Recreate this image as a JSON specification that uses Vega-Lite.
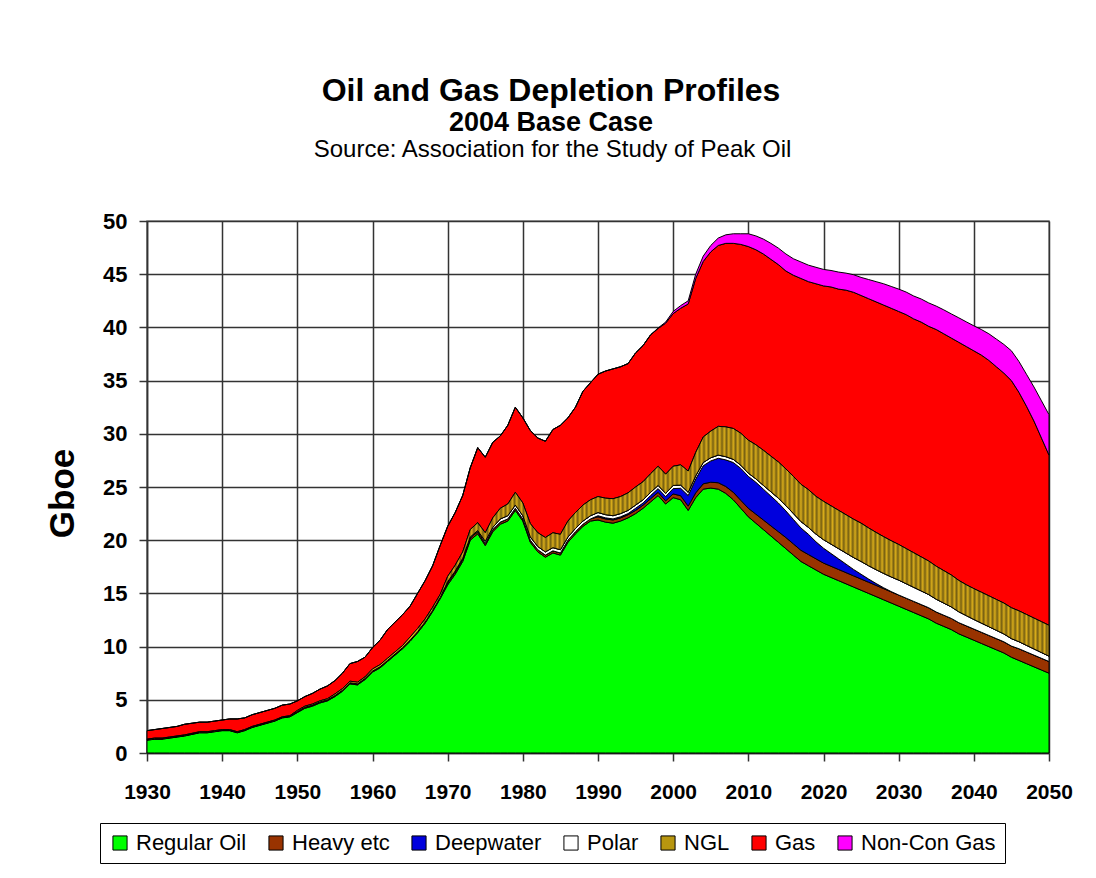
{
  "$schema": "https://vega.github.io/schema/vega-lite/v6.json",
  "autosize": {"type": "none"},
  "width": 902,
  "height": 532,
  "padding": {"left": 147, "top": 221, "right": 47, "bottom": 125},
  "background": "#ffffff",
  "config": {
    "font": "Liberation Sans",
    "view": {"stroke": "#888888", "strokeWidth": 1.5}
  },
  "title": {
    "text": "Oil and Gas Depletion Profiles",
    "subtitle": "2004 Base Case",
    "font": "Liberation Sans",
    "fontSize": 32,
    "fontWeight": "bold",
    "color": "#000000",
    "subtitleFont": "Liberation Sans",
    "subtitleFontSize": 27,
    "subtitleFontWeight": "bold",
    "subtitleColor": "#000000",
    "subtitlePadding": 2,
    "anchor": "middle",
    "dx": -47,
    "offset": 0
  },
  "data": {
    "values": [
      {"year":1930,"Regular Oil":1.2,"Heavy etc":0.05,"Deepwater":0,"Polar":0,"NGL":0.05,"Gas":0.8,"Non-Con Gas":0},
      {"year":1931,"Regular Oil":1.3,"Heavy etc":0.05,"Deepwater":0,"Polar":0,"NGL":0.05,"Gas":0.8,"Non-Con Gas":0},
      {"year":1932,"Regular Oil":1.3,"Heavy etc":0.05,"Deepwater":0,"Polar":0,"NGL":0.05,"Gas":0.9,"Non-Con Gas":0},
      {"year":1933,"Regular Oil":1.4,"Heavy etc":0.05,"Deepwater":0,"Polar":0,"NGL":0.05,"Gas":0.9,"Non-Con Gas":0},
      {"year":1934,"Regular Oil":1.5,"Heavy etc":0.05,"Deepwater":0,"Polar":0,"NGL":0.05,"Gas":0.9,"Non-Con Gas":0},
      {"year":1935,"Regular Oil":1.6,"Heavy etc":0.05,"Deepwater":0,"Polar":0,"NGL":0.05,"Gas":1.0,"Non-Con Gas":0},
      {"year":1936,"Regular Oil":1.75,"Heavy etc":0.05,"Deepwater":0,"Polar":0,"NGL":0.05,"Gas":0.95,"Non-Con Gas":0},
      {"year":1937,"Regular Oil":1.9,"Heavy etc":0.05,"Deepwater":0,"Polar":0,"NGL":0.05,"Gas":0.9,"Non-Con Gas":0},
      {"year":1938,"Regular Oil":1.9,"Heavy etc":0.05,"Deepwater":0,"Polar":0,"NGL":0.05,"Gas":0.9,"Non-Con Gas":0},
      {"year":1939,"Regular Oil":2.0,"Heavy etc":0.05,"Deepwater":0,"Polar":0,"NGL":0.05,"Gas":0.9,"Non-Con Gas":0},
      {"year":1940,"Regular Oil":2.1,"Heavy etc":0.05,"Deepwater":0,"Polar":0,"NGL":0.05,"Gas":0.9,"Non-Con Gas":0},
      {"year":1941,"Regular Oil":2.1,"Heavy etc":0.05,"Deepwater":0,"Polar":0,"NGL":0.05,"Gas":1.0,"Non-Con Gas":0},
      {"year":1942,"Regular Oil":1.9,"Heavy etc":0.05,"Deepwater":0,"Polar":0,"NGL":0.05,"Gas":1.2,"Non-Con Gas":0},
      {"year":1943,"Regular Oil":2.1,"Heavy etc":0.05,"Deepwater":0,"Polar":0,"NGL":0.05,"Gas":1.1,"Non-Con Gas":0},
      {"year":1944,"Regular Oil":2.4,"Heavy etc":0.05,"Deepwater":0,"Polar":0,"NGL":0.05,"Gas":1.1,"Non-Con Gas":0},
      {"year":1945,"Regular Oil":2.6,"Heavy etc":0.05,"Deepwater":0,"Polar":0,"NGL":0.05,"Gas":1.1,"Non-Con Gas":0},
      {"year":1946,"Regular Oil":2.8,"Heavy etc":0.05,"Deepwater":0,"Polar":0,"NGL":0.05,"Gas":1.1,"Non-Con Gas":0},
      {"year":1947,"Regular Oil":3.0,"Heavy etc":0.05,"Deepwater":0,"Polar":0,"NGL":0.05,"Gas":1.1,"Non-Con Gas":0},
      {"year":1948,"Regular Oil":3.3,"Heavy etc":0.05,"Deepwater":0,"Polar":0,"NGL":0.05,"Gas":1.1,"Non-Con Gas":0},
      {"year":1949,"Regular Oil":3.4,"Heavy etc":0.05,"Deepwater":0,"Polar":0,"NGL":0.05,"Gas":1.1,"Non-Con Gas":0},
      {"year":1950,"Regular Oil":3.8,"Heavy etc":0.1,"Deepwater":0,"Polar":0,"NGL":0.1,"Gas":0.9,"Non-Con Gas":0},
      {"year":1951,"Regular Oil":4.2,"Heavy etc":0.1,"Deepwater":0,"Polar":0,"NGL":0.1,"Gas":0.9,"Non-Con Gas":0},
      {"year":1952,"Regular Oil":4.4,"Heavy etc":0.1,"Deepwater":0,"Polar":0,"NGL":0.1,"Gas":1.0,"Non-Con Gas":0},
      {"year":1953,"Regular Oil":4.7,"Heavy etc":0.1,"Deepwater":0,"Polar":0,"NGL":0.1,"Gas":1.1,"Non-Con Gas":0},
      {"year":1954,"Regular Oil":4.9,"Heavy etc":0.1,"Deepwater":0,"Polar":0,"NGL":0.1,"Gas":1.2,"Non-Con Gas":0},
      {"year":1955,"Regular Oil":5.3,"Heavy etc":0.1,"Deepwater":0,"Polar":0,"NGL":0.15,"Gas":1.25,"Non-Con Gas":0},
      {"year":1956,"Regular Oil":5.8,"Heavy etc":0.1,"Deepwater":0,"Polar":0,"NGL":0.15,"Gas":1.45,"Non-Con Gas":0},
      {"year":1957,"Regular Oil":6.5,"Heavy etc":0.1,"Deepwater":0,"Polar":0,"NGL":0.15,"Gas":1.65,"Non-Con Gas":0},
      {"year":1958,"Regular Oil":6.4,"Heavy etc":0.1,"Deepwater":0,"Polar":0,"NGL":0.15,"Gas":1.95,"Non-Con Gas":0},
      {"year":1959,"Regular Oil":6.9,"Heavy etc":0.1,"Deepwater":0,"Polar":0,"NGL":0.15,"Gas":1.85,"Non-Con Gas":0},
      {"year":1960,"Regular Oil":7.6,"Heavy etc":0.1,"Deepwater":0,"Polar":0,"NGL":0.2,"Gas":2.0,"Non-Con Gas":0},
      {"year":1961,"Regular Oil":8.0,"Heavy etc":0.1,"Deepwater":0,"Polar":0,"NGL":0.2,"Gas":2.3,"Non-Con Gas":0},
      {"year":1962,"Regular Oil":8.6,"Heavy etc":0.1,"Deepwater":0,"Polar":0,"NGL":0.2,"Gas":2.7,"Non-Con Gas":0},
      {"year":1963,"Regular Oil":9.2,"Heavy etc":0.1,"Deepwater":0,"Polar":0,"NGL":0.2,"Gas":2.8,"Non-Con Gas":0},
      {"year":1964,"Regular Oil":9.8,"Heavy etc":0.1,"Deepwater":0,"Polar":0,"NGL":0.2,"Gas":2.9,"Non-Con Gas":0},
      {"year":1965,"Regular Oil":10.5,"Heavy etc":0.1,"Deepwater":0,"Polar":0,"NGL":0.3,"Gas":2.9,"Non-Con Gas":0},
      {"year":1966,"Regular Oil":11.3,"Heavy etc":0.1,"Deepwater":0,"Polar":0,"NGL":0.3,"Gas":3.3,"Non-Con Gas":0},
      {"year":1967,"Regular Oil":12.2,"Heavy etc":0.1,"Deepwater":0,"Polar":0,"NGL":0.3,"Gas":3.6,"Non-Con Gas":0},
      {"year":1968,"Regular Oil":13.3,"Heavy etc":0.1,"Deepwater":0,"Polar":0,"NGL":0.3,"Gas":3.9,"Non-Con Gas":0},
      {"year":1969,"Regular Oil":14.5,"Heavy etc":0.1,"Deepwater":0,"Polar":0,"NGL":0.3,"Gas":4.6,"Non-Con Gas":0},
      {"year":1970,"Regular Oil":15.8,"Heavy etc":0.2,"Deepwater":0,"Polar":0.1,"NGL":0.5,"Gas":4.7,"Non-Con Gas":0},
      {"year":1971,"Regular Oil":16.8,"Heavy etc":0.2,"Deepwater":0,"Polar":0.1,"NGL":0.55,"Gas":4.95,"Non-Con Gas":0},
      {"year":1972,"Regular Oil":18.0,"Heavy etc":0.2,"Deepwater":0,"Polar":0.1,"NGL":0.6,"Gas":5.3,"Non-Con Gas":0},
      {"year":1973,"Regular Oil":20.0,"Heavy etc":0.2,"Deepwater":0,"Polar":0.1,"NGL":0.7,"Gas":5.8,"Non-Con Gas":0},
      {"year":1974,"Regular Oil":20.6,"Heavy etc":0.2,"Deepwater":0,"Polar":0.1,"NGL":0.75,"Gas":7.05,"Non-Con Gas":0},
      {"year":1975,"Regular Oil":19.5,"Heavy etc":0.2,"Deepwater":0,"Polar":0.2,"NGL":0.8,"Gas":7.1,"Non-Con Gas":0},
      {"year":1976,"Regular Oil":20.8,"Heavy etc":0.2,"Deepwater":0,"Polar":0.2,"NGL":0.9,"Gas":7.1,"Non-Con Gas":0},
      {"year":1977,"Regular Oil":21.5,"Heavy etc":0.2,"Deepwater":0,"Polar":0.3,"NGL":1.0,"Gas":6.8,"Non-Con Gas":0},
      {"year":1978,"Regular Oil":21.8,"Heavy etc":0.2,"Deepwater":0,"Polar":0.3,"NGL":1.1,"Gas":7.4,"Non-Con Gas":0},
      {"year":1979,"Regular Oil":22.8,"Heavy etc":0.2,"Deepwater":0,"Polar":0.3,"NGL":1.2,"Gas":8.0,"Non-Con Gas":0},
      {"year":1980,"Regular Oil":21.8,"Heavy etc":0.2,"Deepwater":0,"Polar":0.3,"NGL":1.2,"Gas":8.0,"Non-Con Gas":0},
      {"year":1981,"Regular Oil":19.8,"Heavy etc":0.2,"Deepwater":0,"Polar":0.3,"NGL":1.25,"Gas":8.75,"Non-Con Gas":0},
      {"year":1982,"Regular Oil":18.9,"Heavy etc":0.2,"Deepwater":0,"Polar":0.3,"NGL":1.3,"Gas":8.9,"Non-Con Gas":0},
      {"year":1983,"Regular Oil":18.4,"Heavy etc":0.2,"Deepwater":0,"Polar":0.3,"NGL":1.35,"Gas":9.05,"Non-Con Gas":0},
      {"year":1984,"Regular Oil":18.8,"Heavy etc":0.2,"Deepwater":0,"Polar":0.3,"NGL":1.4,"Gas":9.7,"Non-Con Gas":0},
      {"year":1985,"Regular Oil":18.6,"Heavy etc":0.2,"Deepwater":0,"Polar":0.3,"NGL":1.45,"Gas":10.25,"Non-Con Gas":0},
      {"year":1986,"Regular Oil":19.8,"Heavy etc":0.2,"Deepwater":0,"Polar":0.3,"NGL":1.5,"Gas":9.7,"Non-Con Gas":0},
      {"year":1987,"Regular Oil":20.6,"Heavy etc":0.2,"Deepwater":0,"Polar":0.3,"NGL":1.5,"Gas":9.9,"Non-Con Gas":0},
      {"year":1988,"Regular Oil":21.3,"Heavy etc":0.2,"Deepwater":0,"Polar":0.3,"NGL":1.5,"Gas":10.7,"Non-Con Gas":0},
      {"year":1989,"Regular Oil":21.8,"Heavy etc":0.2,"Deepwater":0,"Polar":0.3,"NGL":1.5,"Gas":11.0,"Non-Con Gas":0},
      {"year":1990,"Regular Oil":21.9,"Heavy etc":0.3,"Deepwater":0.1,"Polar":0.3,"NGL":1.5,"Gas":11.5,"Non-Con Gas":0},
      {"year":1991,"Regular Oil":21.7,"Heavy etc":0.3,"Deepwater":0.1,"Polar":0.3,"NGL":1.55,"Gas":11.95,"Non-Con Gas":0},
      {"year":1992,"Regular Oil":21.6,"Heavy etc":0.3,"Deepwater":0.1,"Polar":0.3,"NGL":1.6,"Gas":12.2,"Non-Con Gas":0},
      {"year":1993,"Regular Oil":21.8,"Heavy etc":0.3,"Deepwater":0.1,"Polar":0.3,"NGL":1.6,"Gas":12.2,"Non-Con Gas":0},
      {"year":1994,"Regular Oil":22.1,"Heavy etc":0.3,"Deepwater":0.1,"Polar":0.3,"NGL":1.65,"Gas":12.15,"Non-Con Gas":0},
      {"year":1995,"Regular Oil":22.5,"Heavy etc":0.3,"Deepwater":0.2,"Polar":0.3,"NGL":1.7,"Gas":12.6,"Non-Con Gas":0},
      {"year":1996,"Regular Oil":23.0,"Heavy etc":0.3,"Deepwater":0.2,"Polar":0.3,"NGL":1.7,"Gas":12.8,"Non-Con Gas":0},
      {"year":1997,"Regular Oil":23.6,"Heavy etc":0.3,"Deepwater":0.3,"Polar":0.3,"NGL":1.75,"Gas":13.05,"Non-Con Gas":0},
      {"year":1998,"Regular Oil":24.2,"Heavy etc":0.3,"Deepwater":0.35,"Polar":0.3,"NGL":1.8,"Gas":12.95,"Non-Con Gas":0.05},
      {"year":1999,"Regular Oil":23.4,"Heavy etc":0.3,"Deepwater":0.4,"Polar":0.3,"NGL":1.8,"Gas":14.2,"Non-Con Gas":0.1},
      {"year":2000,"Regular Oil":24.0,"Heavy etc":0.35,"Deepwater":0.5,"Polar":0.3,"NGL":1.8,"Gas":14.35,"Non-Con Gas":0.2},
      {"year":2001,"Regular Oil":23.8,"Heavy etc":0.38,"Deepwater":0.7,"Polar":0.3,"NGL":1.9,"Gas":14.72,"Non-Con Gas":0.25},
      {"year":2002,"Regular Oil":22.8,"Heavy etc":0.4,"Deepwater":1.0,"Polar":0.3,"NGL":2.0,"Gas":15.7,"Non-Con Gas":0.3},
      {"year":2003,"Regular Oil":24.0,"Heavy etc":0.45,"Deepwater":1.3,"Polar":0.3,"NGL":2.2,"Gas":16.35,"Non-Con Gas":0.4},
      {"year":2004,"Regular Oil":24.8,"Heavy etc":0.5,"Deepwater":1.7,"Polar":0.3,"NGL":2.4,"Gas":16.5,"Non-Con Gas":0.5},
      {"year":2005,"Regular Oil":24.9,"Heavy etc":0.55,"Deepwater":2.0,"Polar":0.3,"NGL":2.5,"Gas":16.85,"Non-Con Gas":0.6},
      {"year":2006,"Regular Oil":24.8,"Heavy etc":0.6,"Deepwater":2.3,"Polar":0.3,"NGL":2.7,"Gas":17.0,"Non-Con Gas":0.7},
      {"year":2007,"Regular Oil":24.4,"Heavy etc":0.65,"Deepwater":2.5,"Polar":0.3,"NGL":2.8,"Gas":17.25,"Non-Con Gas":0.8},
      {"year":2008,"Regular Oil":23.8,"Heavy etc":0.7,"Deepwater":2.8,"Polar":0.3,"NGL":2.9,"Gas":17.4,"Non-Con Gas":0.9},
      {"year":2009,"Regular Oil":23.0,"Heavy etc":0.75,"Deepwater":3.0,"Polar":0.3,"NGL":3.0,"Gas":17.75,"Non-Con Gas":1.0},
      {"year":2010,"Regular Oil":22.2,"Heavy etc":0.8,"Deepwater":3.0,"Polar":0.3,"NGL":3.1,"Gas":18.2,"Non-Con Gas":1.2},
      {"year":2011,"Regular Oil":21.6,"Heavy etc":0.85,"Deepwater":3.0,"Polar":0.32,"NGL":3.2,"Gas":18.33,"Non-Con Gas":1.3},
      {"year":2012,"Regular Oil":21.0,"Heavy etc":0.9,"Deepwater":2.9,"Polar":0.35,"NGL":3.3,"Gas":18.45,"Non-Con Gas":1.4},
      {"year":2013,"Regular Oil":20.4,"Heavy etc":0.95,"Deepwater":2.8,"Polar":0.4,"NGL":3.35,"Gas":18.5,"Non-Con Gas":1.5},
      {"year":2014,"Regular Oil":19.8,"Heavy etc":1.0,"Deepwater":2.7,"Polar":0.45,"NGL":3.4,"Gas":18.55,"Non-Con Gas":1.55},
      {"year":2015,"Regular Oil":19.2,"Heavy etc":1.05,"Deepwater":2.5,"Polar":0.5,"NGL":3.45,"Gas":18.6,"Non-Con Gas":1.6},
      {"year":2016,"Regular Oil":18.6,"Heavy etc":1.05,"Deepwater":2.3,"Polar":0.55,"NGL":3.5,"Gas":18.9,"Non-Con Gas":1.55},
      {"year":2017,"Regular Oil":18.0,"Heavy etc":1.05,"Deepwater":2.1,"Polar":0.6,"NGL":3.5,"Gas":19.35,"Non-Con Gas":1.55},
      {"year":2018,"Regular Oil":17.6,"Heavy etc":1.05,"Deepwater":1.9,"Polar":0.65,"NGL":3.55,"Gas":19.55,"Non-Con Gas":1.55},
      {"year":2019,"Regular Oil":17.2,"Heavy etc":1.05,"Deepwater":1.6,"Polar":0.72,"NGL":3.55,"Gas":19.98,"Non-Con Gas":1.55},
      {"year":2020,"Regular Oil":16.8,"Heavy etc":1.05,"Deepwater":1.4,"Polar":0.8,"NGL":3.6,"Gas":20.25,"Non-Con Gas":1.55},
      {"year":2021,"Regular Oil":16.5,"Heavy etc":1.05,"Deepwater":1.2,"Polar":0.88,"NGL":3.6,"Gas":20.57,"Non-Con Gas":1.55},
      {"year":2022,"Regular Oil":16.2,"Heavy etc":1.05,"Deepwater":1.0,"Polar":0.96,"NGL":3.6,"Gas":20.79,"Non-Con Gas":1.6},
      {"year":2023,"Regular Oil":15.9,"Heavy etc":1.05,"Deepwater":0.8,"Polar":1.04,"NGL":3.6,"Gas":21.11,"Non-Con Gas":1.6},
      {"year":2024,"Regular Oil":15.6,"Heavy etc":1.05,"Deepwater":0.6,"Polar":1.12,"NGL":3.6,"Gas":21.33,"Non-Con Gas":1.65},
      {"year":2025,"Regular Oil":15.3,"Heavy etc":1.05,"Deepwater":0.45,"Polar":1.2,"NGL":3.6,"Gas":21.4,"Non-Con Gas":1.7},
      {"year":2026,"Regular Oil":15.0,"Heavy etc":1.05,"Deepwater":0.3,"Polar":1.25,"NGL":3.55,"Gas":21.55,"Non-Con Gas":1.8},
      {"year":2027,"Regular Oil":14.7,"Heavy etc":1.05,"Deepwater":0.18,"Polar":1.3,"NGL":3.5,"Gas":21.67,"Non-Con Gas":1.9},
      {"year":2028,"Regular Oil":14.4,"Heavy etc":1.05,"Deepwater":0.08,"Polar":1.35,"NGL":3.45,"Gas":21.77,"Non-Con Gas":2.0},
      {"year":2029,"Regular Oil":14.1,"Heavy etc":1.05,"Deepwater":0.02,"Polar":1.38,"NGL":3.4,"Gas":21.85,"Non-Con Gas":2.05},
      {"year":2030,"Regular Oil":13.8,"Heavy etc":1.05,"Deepwater":0,"Polar":1.4,"NGL":3.35,"Gas":21.9,"Non-Con Gas":2.1},
      {"year":2031,"Regular Oil":13.5,"Heavy etc":1.05,"Deepwater":0,"Polar":1.36,"NGL":3.3,"Gas":21.99,"Non-Con Gas":2.12},
      {"year":2032,"Regular Oil":13.2,"Heavy etc":1.05,"Deepwater":0,"Polar":1.32,"NGL":3.25,"Gas":21.98,"Non-Con Gas":2.15},
      {"year":2033,"Regular Oil":12.9,"Heavy etc":1.05,"Deepwater":0,"Polar":1.28,"NGL":3.2,"Gas":22.07,"Non-Con Gas":2.17},
      {"year":2034,"Regular Oil":12.6,"Heavy etc":1.05,"Deepwater":0,"Polar":1.24,"NGL":3.15,"Gas":22.06,"Non-Con Gas":2.2},
      {"year":2035,"Regular Oil":12.2,"Heavy etc":1.05,"Deepwater":0,"Polar":1.2,"NGL":3.1,"Gas":22.25,"Non-Con Gas":2.2},
      {"year":2036,"Regular Oil":11.9,"Heavy etc":1.05,"Deepwater":0,"Polar":1.14,"NGL":3.05,"Gas":22.26,"Non-Con Gas":2.25},
      {"year":2037,"Regular Oil":11.6,"Heavy etc":1.05,"Deepwater":0,"Polar":1.08,"NGL":3.0,"Gas":22.27,"Non-Con Gas":2.27},
      {"year":2038,"Regular Oil":11.2,"Heavy etc":1.05,"Deepwater":0,"Polar":1.02,"NGL":2.95,"Gas":22.38,"Non-Con Gas":2.3},
      {"year":2039,"Regular Oil":10.9,"Heavy etc":1.05,"Deepwater":0,"Polar":0.96,"NGL":2.9,"Gas":22.39,"Non-Con Gas":2.32},
      {"year":2040,"Regular Oil":10.6,"Heavy etc":1.05,"Deepwater":0,"Polar":0.9,"NGL":2.9,"Gas":22.35,"Non-Con Gas":2.35},
      {"year":2041,"Regular Oil":10.3,"Heavy etc":1.05,"Deepwater":0,"Polar":0.86,"NGL":2.9,"Gas":22.29,"Non-Con Gas":2.4},
      {"year":2042,"Regular Oil":10.0,"Heavy etc":1.05,"Deepwater":0,"Polar":0.82,"NGL":2.9,"Gas":22.13,"Non-Con Gas":2.5},
      {"year":2043,"Regular Oil":9.7,"Heavy etc":1.05,"Deepwater":0,"Polar":0.78,"NGL":2.9,"Gas":21.87,"Non-Con Gas":2.6},
      {"year":2044,"Regular Oil":9.4,"Heavy etc":1.05,"Deepwater":0,"Polar":0.74,"NGL":2.9,"Gas":21.61,"Non-Con Gas":2.7},
      {"year":2045,"Regular Oil":9.0,"Heavy etc":1.05,"Deepwater":0,"Polar":0.7,"NGL":2.9,"Gas":21.35,"Non-Con Gas":2.8},
      {"year":2046,"Regular Oil":8.7,"Heavy etc":1.1,"Deepwater":0,"Polar":0.66,"NGL":2.9,"Gas":20.54,"Non-Con Gas":2.9},
      {"year":2047,"Regular Oil":8.4,"Heavy etc":1.1,"Deepwater":0,"Polar":0.62,"NGL":2.9,"Gas":19.58,"Non-Con Gas":3.0},
      {"year":2048,"Regular Oil":8.1,"Heavy etc":1.1,"Deepwater":0,"Polar":0.58,"NGL":2.9,"Gas":18.52,"Non-Con Gas":3.2},
      {"year":2049,"Regular Oil":7.8,"Heavy etc":1.1,"Deepwater":0,"Polar":0.54,"NGL":2.9,"Gas":17.26,"Non-Con Gas":3.5},
      {"year":2050,"Regular Oil":7.5,"Heavy etc":1.1,"Deepwater":0,"Polar":0.5,"NGL":2.9,"Gas":16.0,"Non-Con Gas":3.8}
    ]
  },
  "transform": [
    {"fold": ["Regular Oil", "Heavy etc", "Deepwater", "Polar", "NGL", "Gas", "Non-Con Gas"], "as": ["series", "value"]},
    {
      "lookup": "series",
      "from": {
        "data": {"values": [
          {"series": "Regular Oil", "k": 1},
          {"series": "Heavy etc", "k": 2},
          {"series": "Deepwater", "k": 3},
          {"series": "Polar", "k": 4},
          {"series": "NGL", "k": 5},
          {"series": "Gas", "k": 6},
          {"series": "Non-Con Gas", "k": 7}
        ]},
        "key": "series",
        "fields": ["k"]
      }
    }
  ],
  "layer": [
    {
      "mark": {"type": "area", "interpolate": "linear", "stroke": "#000000", "strokeWidth": 1, "strokeJoin": "round", "opacity": 1},
      "encoding": {
        "x": {
          "field": "year", "type": "quantitative",
          "scale": {"domain": [1930, 2050], "nice": false, "zero": false},
          "axis": {
            "title": null,
            "values": [1930, 1940, 1950, 1960, 1970, 1980, 1990, 2000, 2010, 2020, 2030, 2040, 2050],
            "format": "d",
            "labelFont": "Liberation Sans", "labelFontSize": 21, "labelFontWeight": "bold", "labelColor": "#000000",
            "labelPadding": 20, "labelFlush": false, "labelOverlap": false,
            "tickSize": 8, "tickColor": "#333333", "tickWidth": 1.5,
            "domainColor": "#333333", "domainWidth": 1.5,
            "grid": true, "gridColor": "#333333", "gridWidth": 1.5
          }
        },
        "y": {
          "field": "value", "type": "quantitative", "stack": "zero",
          "scale": {"domain": [0, 50], "nice": false},
          "axis": {
            "title": "Gboe",
            "titleFont": "Liberation Sans", "titleFontSize": 35, "titleFontWeight": "bold", "titleColor": "#000000",
            "titleX": -74, "titleY": 272, "titleBaseline": "alphabetic", "titleAlign": "center", "titleAngle": 270,
            "values": [0, 5, 10, 15, 20, 25, 30, 35, 40, 45, 50],
            "labelFont": "Liberation Sans", "labelFontSize": 22, "labelFontWeight": "bold", "labelColor": "#000000",
            "labelPadding": 12, "labelFlush": false,
            "tickSize": 8, "tickColor": "#333333", "tickWidth": 1.5,
            "domainColor": "#333333", "domainWidth": 1.5,
            "grid": true, "gridColor": "#333333", "gridWidth": 1.5
          }
        },
        "order": {"field": "k", "type": "quantitative", "sort": "ascending"},
        "color": {
          "field": "series", "type": "nominal",
          "sort": ["Regular Oil", "Heavy etc", "Deepwater", "Polar", "NGL", "Gas", "Non-Con Gas"],
          "scale": {
            "domain": ["Regular Oil", "Heavy etc", "Deepwater", "Polar", "NGL", "Gas", "Non-Con Gas"],
            "range": ["#00FF00", "#993300", "#0000DD", "#FFFFFF", "#B8960F", "#FF0000", "#FF00FF"]
          },
          "legend": {
            "title": null,
            "orient": "none",
            "legendX": -47,
            "legendY": 602,
            "direction": "horizontal",
            "symbolType": "square",
            "symbolSize": 200,
            "symbolStrokeColor": "#000000",
            "symbolStrokeWidth": 1,
            "labelFont": "Liberation Sans",
            "labelFontSize": 22,
            "labelColor": "#000000",
            "labelOffset": 5,
            "columnPadding": 18,
            "padding": 9,
            "strokeColor": "#000000",
            "fillColor": "#FFFFFF"
          }
        }
      }
    },
    {
      "mark": {"type": "area", "interpolate": "linear", "strokeWidth": 1, "strokeJoin": "round", "opacity": 1},
      "encoding": {
        "x": {"field": "year", "type": "quantitative", "axis": null},
        "y": {"field": "value", "type": "quantitative", "stack": "zero"},
        "detail": {"field": "series"},
        "order": {"field": "k", "type": "quantitative", "sort": "ascending"},
        "stroke": {"condition": {"test": "datum.series === 'NGL'", "value": "#000000"}, "value": "transparent"},
        "fill": {
          "condition": {
            "test": "datum.series === 'NGL'",
            "value": {
              "gradient": "linear", "x1": 0, "y1": 0, "x2": 1, "y2": 0,
              "stops": [
                {"offset":0,"color":"#b8960f"},
                {"offset":0.3,"color":"#d8ac1a"},{"offset":0.3025,"color":"#776012"},{"offset":0.305,"color":"#d8ac1a"},{"offset":0.3075,"color":"#776012"},
                {"offset":0.31,"color":"#d8ac1a"},{"offset":0.3125,"color":"#776012"},{"offset":0.315,"color":"#d8ac1a"},{"offset":0.3175,"color":"#776012"},
                {"offset":0.32,"color":"#d8ac1a"},{"offset":0.3225,"color":"#776012"},{"offset":0.325,"color":"#d8ac1a"},{"offset":0.3275,"color":"#776012"},
                {"offset":0.33,"color":"#d8ac1a"},{"offset":0.3325,"color":"#776012"},{"offset":0.335,"color":"#d8ac1a"},{"offset":0.3375,"color":"#776012"},
                {"offset":0.34,"color":"#d8ac1a"},{"offset":0.3425,"color":"#776012"},{"offset":0.345,"color":"#d8ac1a"},{"offset":0.3475,"color":"#776012"},
                {"offset":0.35,"color":"#d8ac1a"},{"offset":0.3525,"color":"#776012"},{"offset":0.355,"color":"#d8ac1a"},{"offset":0.3575,"color":"#776012"},
                {"offset":0.36,"color":"#d8ac1a"},{"offset":0.3625,"color":"#776012"},{"offset":0.365,"color":"#d8ac1a"},{"offset":0.3675,"color":"#776012"},
                {"offset":0.37,"color":"#d8ac1a"},{"offset":0.3725,"color":"#776012"},{"offset":0.375,"color":"#d8ac1a"},{"offset":0.3775,"color":"#776012"},
                {"offset":0.38,"color":"#d8ac1a"},{"offset":0.3825,"color":"#776012"},{"offset":0.385,"color":"#d8ac1a"},{"offset":0.3875,"color":"#776012"},
                {"offset":0.39,"color":"#d8ac1a"},{"offset":0.3925,"color":"#776012"},{"offset":0.395,"color":"#d8ac1a"},{"offset":0.3975,"color":"#776012"},
                {"offset":0.40,"color":"#d8ac1a"},{"offset":0.4025,"color":"#776012"},{"offset":0.405,"color":"#d8ac1a"},{"offset":0.4075,"color":"#776012"},
                {"offset":0.41,"color":"#d8ac1a"},{"offset":0.4125,"color":"#776012"},{"offset":0.415,"color":"#d8ac1a"},{"offset":0.4175,"color":"#776012"},
                {"offset":0.42,"color":"#d8ac1a"},{"offset":0.4225,"color":"#776012"},{"offset":0.425,"color":"#d8ac1a"},{"offset":0.4275,"color":"#776012"},
                {"offset":0.43,"color":"#d8ac1a"},{"offset":0.4325,"color":"#776012"},{"offset":0.435,"color":"#d8ac1a"},{"offset":0.4375,"color":"#776012"},
                {"offset":0.44,"color":"#d8ac1a"},{"offset":0.4425,"color":"#776012"},{"offset":0.445,"color":"#d8ac1a"},{"offset":0.4475,"color":"#776012"},
                {"offset":0.45,"color":"#d8ac1a"},{"offset":0.4525,"color":"#776012"},{"offset":0.455,"color":"#d8ac1a"},{"offset":0.4575,"color":"#776012"},
                {"offset":0.46,"color":"#d8ac1a"},{"offset":0.4625,"color":"#776012"},{"offset":0.465,"color":"#d8ac1a"},{"offset":0.4675,"color":"#776012"},
                {"offset":0.47,"color":"#d8ac1a"},{"offset":0.4725,"color":"#776012"},{"offset":0.475,"color":"#d8ac1a"},{"offset":0.4775,"color":"#776012"},
                {"offset":0.48,"color":"#d8ac1a"},{"offset":0.4825,"color":"#776012"},{"offset":0.485,"color":"#d8ac1a"},{"offset":0.4875,"color":"#776012"},
                {"offset":0.49,"color":"#d8ac1a"},{"offset":0.4925,"color":"#776012"},{"offset":0.495,"color":"#d8ac1a"},{"offset":0.4975,"color":"#776012"},
                {"offset":0.50,"color":"#d8ac1a"},{"offset":0.5025,"color":"#776012"},{"offset":0.505,"color":"#d8ac1a"},{"offset":0.5075,"color":"#776012"},
                {"offset":0.51,"color":"#d8ac1a"},{"offset":0.5125,"color":"#776012"},{"offset":0.515,"color":"#d8ac1a"},{"offset":0.5175,"color":"#776012"},
                {"offset":0.52,"color":"#d8ac1a"},{"offset":0.5225,"color":"#776012"},{"offset":0.525,"color":"#d8ac1a"},{"offset":0.5275,"color":"#776012"},
                {"offset":0.53,"color":"#d8ac1a"},{"offset":0.5325,"color":"#776012"},{"offset":0.535,"color":"#d8ac1a"},{"offset":0.5375,"color":"#776012"},
                {"offset":0.54,"color":"#d8ac1a"},{"offset":0.5425,"color":"#776012"},{"offset":0.545,"color":"#d8ac1a"},{"offset":0.5475,"color":"#776012"},
                {"offset":0.55,"color":"#d8ac1a"},{"offset":0.5525,"color":"#776012"},{"offset":0.555,"color":"#d8ac1a"},{"offset":0.5575,"color":"#776012"},
                {"offset":0.56,"color":"#d8ac1a"},{"offset":0.5625,"color":"#776012"},{"offset":0.565,"color":"#d8ac1a"},{"offset":0.5675,"color":"#776012"},
                {"offset":0.57,"color":"#d8ac1a"},{"offset":0.5725,"color":"#776012"},{"offset":0.575,"color":"#d8ac1a"},{"offset":0.5775,"color":"#776012"},
                {"offset":0.58,"color":"#d8ac1a"},{"offset":0.5825,"color":"#776012"},{"offset":0.585,"color":"#d8ac1a"},{"offset":0.5875,"color":"#776012"},
                {"offset":0.59,"color":"#d8ac1a"},{"offset":0.5925,"color":"#776012"},{"offset":0.595,"color":"#d8ac1a"},{"offset":0.5975,"color":"#776012"},
                {"offset":0.60,"color":"#d8ac1a"},{"offset":0.6025,"color":"#776012"},{"offset":0.605,"color":"#d8ac1a"},{"offset":0.6075,"color":"#776012"},
                {"offset":0.61,"color":"#d8ac1a"},{"offset":0.6125,"color":"#776012"},{"offset":0.615,"color":"#d8ac1a"},{"offset":0.6175,"color":"#776012"},
                {"offset":0.62,"color":"#d8ac1a"},{"offset":0.6225,"color":"#776012"},{"offset":0.625,"color":"#d8ac1a"},{"offset":0.6275,"color":"#776012"},
                {"offset":0.63,"color":"#d8ac1a"},{"offset":0.6325,"color":"#776012"},{"offset":0.635,"color":"#d8ac1a"},{"offset":0.6375,"color":"#776012"},
                {"offset":0.64,"color":"#d8ac1a"},{"offset":0.6425,"color":"#776012"},{"offset":0.645,"color":"#d8ac1a"},{"offset":0.6475,"color":"#776012"},
                {"offset":0.65,"color":"#d8ac1a"},{"offset":0.6525,"color":"#776012"},{"offset":0.655,"color":"#d8ac1a"},{"offset":0.6575,"color":"#776012"},
                {"offset":0.66,"color":"#d8ac1a"},{"offset":0.6625,"color":"#776012"},{"offset":0.665,"color":"#d8ac1a"},{"offset":0.6675,"color":"#776012"},
                {"offset":0.67,"color":"#d8ac1a"},{"offset":0.6725,"color":"#776012"},{"offset":0.675,"color":"#d8ac1a"},{"offset":0.6775,"color":"#776012"},
                {"offset":0.68,"color":"#d8ac1a"},{"offset":0.6825,"color":"#776012"},{"offset":0.685,"color":"#d8ac1a"},{"offset":0.6875,"color":"#776012"},
                {"offset":0.69,"color":"#d8ac1a"},{"offset":0.6925,"color":"#776012"},{"offset":0.695,"color":"#d8ac1a"},{"offset":0.6975,"color":"#776012"},
                {"offset":0.70,"color":"#d8ac1a"},{"offset":0.7025,"color":"#776012"},{"offset":0.705,"color":"#d8ac1a"},{"offset":0.7075,"color":"#776012"},
                {"offset":0.71,"color":"#d8ac1a"},{"offset":0.7125,"color":"#776012"},{"offset":0.715,"color":"#d8ac1a"},{"offset":0.7175,"color":"#776012"},
                {"offset":0.72,"color":"#d8ac1a"},{"offset":0.7225,"color":"#776012"},{"offset":0.725,"color":"#d8ac1a"},{"offset":0.7275,"color":"#776012"},
                {"offset":0.73,"color":"#d8ac1a"},{"offset":0.7325,"color":"#776012"},{"offset":0.735,"color":"#d8ac1a"},{"offset":0.7375,"color":"#776012"},
                {"offset":0.74,"color":"#d8ac1a"},{"offset":0.7425,"color":"#776012"},{"offset":0.745,"color":"#d8ac1a"},{"offset":0.7475,"color":"#776012"},
                {"offset":0.75,"color":"#d8ac1a"},{"offset":0.7525,"color":"#776012"},{"offset":0.755,"color":"#d8ac1a"},{"offset":0.7575,"color":"#776012"},
                {"offset":0.76,"color":"#d8ac1a"},{"offset":0.7625,"color":"#776012"},{"offset":0.765,"color":"#d8ac1a"},{"offset":0.7675,"color":"#776012"},
                {"offset":0.77,"color":"#d8ac1a"},{"offset":0.7725,"color":"#776012"},{"offset":0.775,"color":"#d8ac1a"},{"offset":0.7775,"color":"#776012"},
                {"offset":0.78,"color":"#d8ac1a"},{"offset":0.7825,"color":"#776012"},{"offset":0.785,"color":"#d8ac1a"},{"offset":0.7875,"color":"#776012"},
                {"offset":0.79,"color":"#d8ac1a"},{"offset":0.7925,"color":"#776012"},{"offset":0.795,"color":"#d8ac1a"},{"offset":0.7975,"color":"#776012"},
                {"offset":0.80,"color":"#d8ac1a"},{"offset":0.8025,"color":"#776012"},{"offset":0.805,"color":"#d8ac1a"},{"offset":0.8075,"color":"#776012"},
                {"offset":0.81,"color":"#d8ac1a"},{"offset":0.8125,"color":"#776012"},{"offset":0.815,"color":"#d8ac1a"},{"offset":0.8175,"color":"#776012"},
                {"offset":0.82,"color":"#d8ac1a"},{"offset":0.8225,"color":"#776012"},{"offset":0.825,"color":"#d8ac1a"},{"offset":0.8275,"color":"#776012"},
                {"offset":0.83,"color":"#d8ac1a"},{"offset":0.8325,"color":"#776012"},{"offset":0.835,"color":"#d8ac1a"},{"offset":0.8375,"color":"#776012"},
                {"offset":0.84,"color":"#d8ac1a"},{"offset":0.8425,"color":"#776012"},{"offset":0.845,"color":"#d8ac1a"},{"offset":0.8475,"color":"#776012"},
                {"offset":0.85,"color":"#d8ac1a"},{"offset":0.8525,"color":"#776012"},{"offset":0.855,"color":"#d8ac1a"},{"offset":0.8575,"color":"#776012"},
                {"offset":0.86,"color":"#d8ac1a"},{"offset":0.8625,"color":"#776012"},{"offset":0.865,"color":"#d8ac1a"},{"offset":0.8675,"color":"#776012"},
                {"offset":0.87,"color":"#d8ac1a"},{"offset":0.8725,"color":"#776012"},{"offset":0.875,"color":"#d8ac1a"},{"offset":0.8775,"color":"#776012"},
                {"offset":0.88,"color":"#d8ac1a"},{"offset":0.8825,"color":"#776012"},{"offset":0.885,"color":"#d8ac1a"},{"offset":0.8875,"color":"#776012"},
                {"offset":0.89,"color":"#d8ac1a"},{"offset":0.8925,"color":"#776012"},{"offset":0.895,"color":"#d8ac1a"},{"offset":0.8975,"color":"#776012"},
                {"offset":0.90,"color":"#d8ac1a"},{"offset":0.9025,"color":"#776012"},{"offset":0.905,"color":"#d8ac1a"},{"offset":0.9075,"color":"#776012"},
                {"offset":0.91,"color":"#d8ac1a"},{"offset":0.9125,"color":"#776012"},{"offset":0.915,"color":"#d8ac1a"},{"offset":0.9175,"color":"#776012"},
                {"offset":0.92,"color":"#d8ac1a"},{"offset":0.9225,"color":"#776012"},{"offset":0.925,"color":"#d8ac1a"},{"offset":0.9275,"color":"#776012"},
                {"offset":0.93,"color":"#d8ac1a"},{"offset":0.9325,"color":"#776012"},{"offset":0.935,"color":"#d8ac1a"},{"offset":0.9375,"color":"#776012"},
                {"offset":0.94,"color":"#d8ac1a"},{"offset":0.9425,"color":"#776012"},{"offset":0.945,"color":"#d8ac1a"},{"offset":0.9475,"color":"#776012"},
                {"offset":0.95,"color":"#d8ac1a"},{"offset":0.9525,"color":"#776012"},{"offset":0.955,"color":"#d8ac1a"},{"offset":0.9575,"color":"#776012"},
                {"offset":0.96,"color":"#d8ac1a"},{"offset":0.9625,"color":"#776012"},{"offset":0.965,"color":"#d8ac1a"},{"offset":0.9675,"color":"#776012"},
                {"offset":0.97,"color":"#d8ac1a"},{"offset":0.9725,"color":"#776012"},{"offset":0.975,"color":"#d8ac1a"},{"offset":0.9775,"color":"#776012"},
                {"offset":0.98,"color":"#d8ac1a"},{"offset":0.9825,"color":"#776012"},{"offset":0.985,"color":"#d8ac1a"},{"offset":0.9875,"color":"#776012"},
                {"offset":0.99,"color":"#d8ac1a"},{"offset":0.9925,"color":"#776012"},{"offset":0.995,"color":"#d8ac1a"},{"offset":0.9975,"color":"#776012"},
                {"offset":1,"color":"#d8ac1a"}
              ]
            }
          },
          "value": "transparent"
        }
      }
    },
    {
      "mark": {"type": "point", "opacity": 0},
      "encoding": {
        "x": {
          "field": "year", "type": "quantitative",
          "axis": {
            "orient": "top",
            "title": "Source: Association for the Study of Peak Oil",
            "titleFont": "Liberation Sans", "titleFontSize": 24, "titleFontWeight": "normal", "titleColor": "#000000",
            "titleX": 405, "titleY": -65, "titleAlign": "center", "titleBaseline": "alphabetic",
            "labels": false, "ticks": false, "domain": false, "grid": false
          }
        }
      }
    }
  ],
  "resolve": {"axis": {"x": "independent"}}
}
